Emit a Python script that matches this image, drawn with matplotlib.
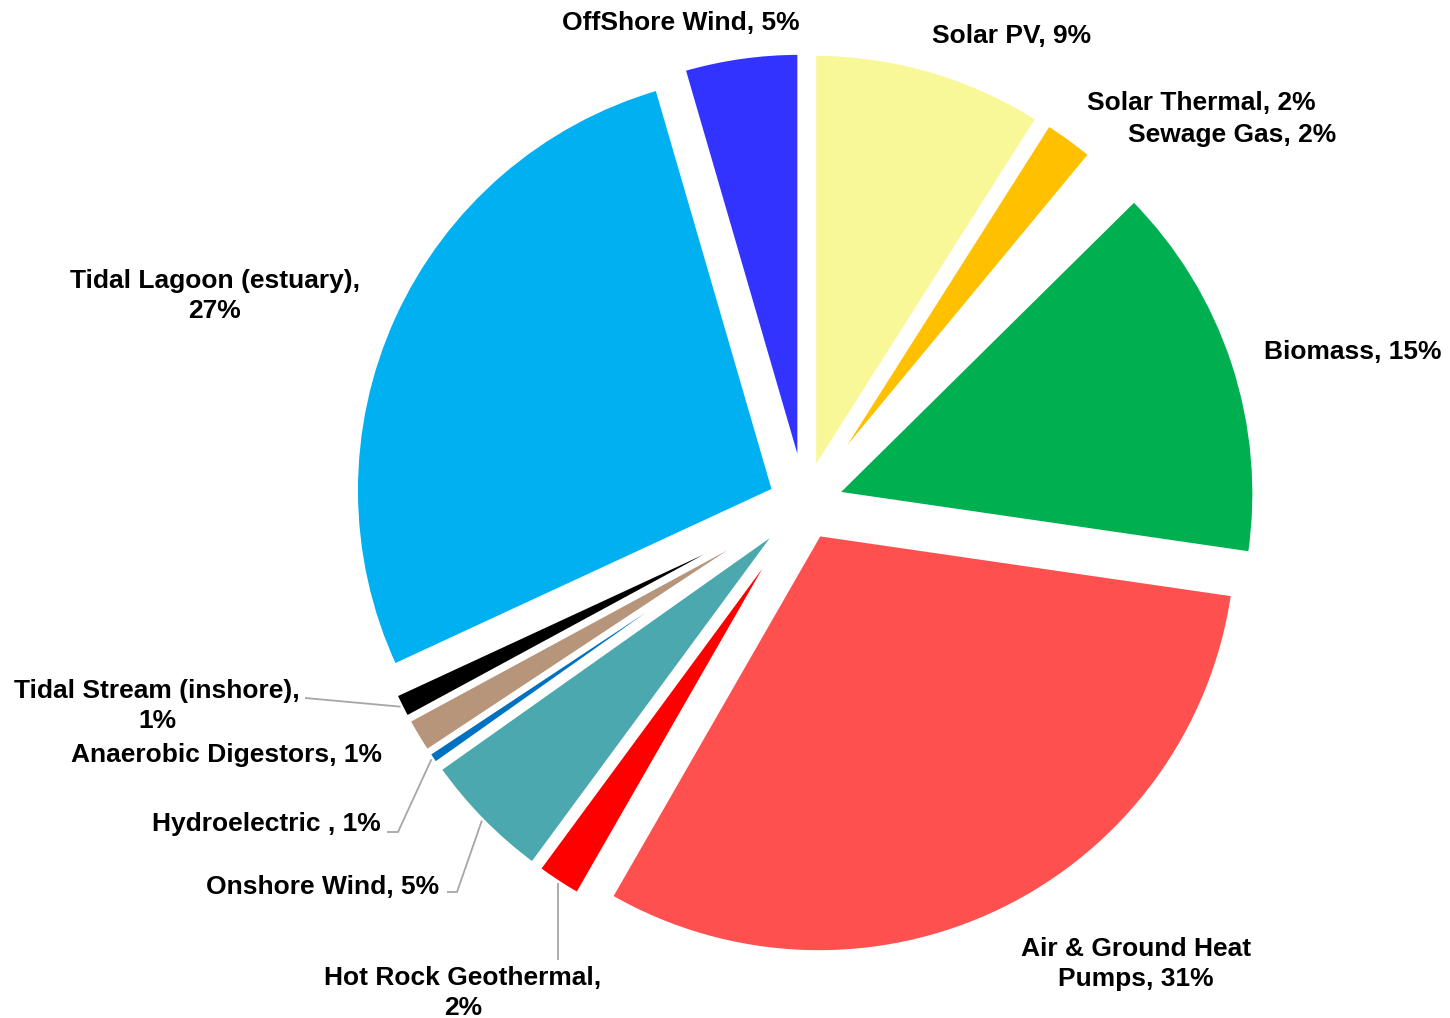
import matplotlib
matplotlib.use('Agg')
import numpy as np
import matplotlib.pyplot as plt

# renewable energy mix (share in %), clockwise from 12 o'clock
sources = ['Solar PV', 'Solar Thermal', 'Sewage Gas', 'Biomass',
           'Air & Ground Heat\nPumps', 'Hot Rock Geothermal,\n', 'Onshore Wind',
           'Hydroelectric ', 'Anaerobic Digestors', 'Tidal Stream (inshore),\n',
           'Tidal Lagoon (estuary),\n', 'OffShore Wind']
shares = [9.0, 2.0, 1.6, 14.7, 31.0, 1.8, 5.1, 0.5, 1.4, 1.0, 27.4, 4.5]
pct_labels = [9, 2, 2, 15, 31, 2, 5, 1, 1, 1, 27, 5]

colors = ['#F8F899', '#FFC000', '#FFFFFF', '#00B050', '#FF5050', '#FF0000',
          '#4AA8AE', '#0070C0', '#B7957A', '#000000', '#00B0F0', '#3333FF']

W, H = 1450, 1018
fig = plt.figure(figsize=(W / 100, H / 100), dpi=100)
ax = fig.add_axes([0, 0, 1, 1])

# explode is in data units here (1 unit = 1 px)
wedges, _ = ax.pie(shares, colors=colors, explode=[33] * len(shares),
                   startangle=90, counterclock=False, radius=419,
                   center=(804.5, H - 504),
                   wedgeprops=dict(edgecolor='white', linewidth=3.6))
ax.set_xlim(0, W)
ax.set_ylim(0, H)
ax.set_aspect('equal')
ax.axis('off')

# label placement (pixel coords from top-left)
label_pos = [(1012, 36), (1201, 103), (1232, 135), (1353, 352), (1136, 964),
             (463, 993), (323, 887), (266, 824), (227, 755), (157, 706),
             (215, 296), (681, 23)]

font = dict(family=['Liberation Sans', 'DejaVu Sans'], weight='bold',
            fontsize=19, color='black')

for name, pct, (x, y) in zip(sources, pct_labels, label_pos):
    if name.endswith('\n'):
        txt = f'{name}{pct}%'
    else:
        txt = f'{name}, {pct}%'
    ax.text(x, H - y, txt, ha='center', va='center', multialignment='center',
            linespacing=1.3, **font)


def outer_mid(w):
    a = np.deg2rad((w.theta1 + w.theta2) / 2)
    cx, cy = w.center
    return cx + w.r * np.cos(a), cy + w.r * np.sin(a)


leader = dict(color='#A6A6A6', lw=1.3, solid_capstyle='butt')

# Tidal Stream
px, py = outer_mid(wedges[9])
ax.plot([305, px], [H - 698, py], **leader)
# Hydroelectric
px, py = outer_mid(wedges[7])
ax.plot([387, 398, px], [H - 832, H - 832, py], **leader)
# Onshore Wind
px, py = outer_mid(wedges[6])
ax.plot([447, 457, px], [H - 892, H - 892, py], **leader)
# Hot Rock Geothermal
px, py = outer_mid(wedges[5])
ax.plot([px, px], [H - 960, py], **leader)

fig.savefig('out.png', dpi=100)
